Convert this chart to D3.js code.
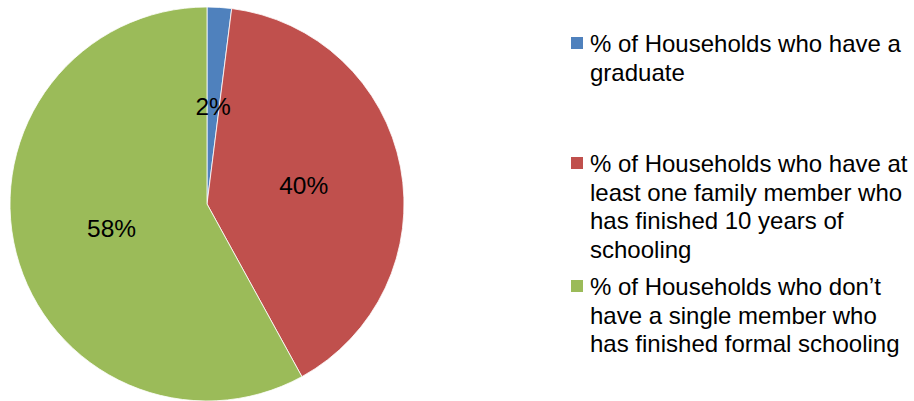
<!DOCTYPE html>
<html>
<head>
<meta charset="utf-8">
<script src="https://cdn.jsdelivr.net/npm/d3@7"></script>
<style>
  html, body { margin: 0; padding: 0; background: #fff; }
  svg { display: block; font-family: "Liberation Sans", Arial, sans-serif; }
</style>
</head>
<body>
<svg id="chart" width="914" height="401"></svg>
<script>
// Household education levels (share of households, %)
const categories = [
  "% of Households who have a graduate",
  "% of Households who have at least one family member who has finished 10 years of schooling",
  "% of Households who don\u2019t have a single member who has finished formal schooling"
];
const values = [2, 40, 58];
const colors = ["#4F81BD", "#C0504D", "#9BBB59"];

const svg = d3.select("#chart");
const cx = 207, cy = 204, radius = 197;

const pie = d3.pie().sort(null).value(d => d.value);
const data = categories.map((c, i) => ({ name: c, value: values[i], color: colors[i] }));
const arcs = pie(data);

const arc = d3.arc().innerRadius(0).outerRadius(radius);

const g = svg.append("g").attr("transform", `translate(${cx},${cy})`);

g.selectAll("path.slice")
  .data(arcs)
  .join("path")
  .attr("class", "slice")
  .attr("d", arc)
  .attr("fill", d => d.data.color)
  .attr("stroke", "#ffffff")
  .attr("stroke-width", 0.8);

// percentage labels at the slice centroids
g.selectAll("text.pct")
  .data(arcs)
  .join("text")
  .attr("class", "pct")
  .attr("x", d => arc.centroid(d)[0])
  .attr("y", d => arc.centroid(d)[1])
  .attr("dy", "0.36em")
  .attr("text-anchor", "middle")
  .attr("font-size", 24.5)
  .attr("fill", "#000")
  .text(d => d.data.value + "%");

// legend with wrapped labels
const legendX = 571, textX = 590, wrapWidth = 320, lineH = 28.5;
const firstBaselines = [52, 172, 295];
const fontSize = 24;

const legend = svg.append("g");
data.forEach((d, i) => {
  const item = legend.append("g");
  const base = firstBaselines[i];
  item.append("rect")
    .attr("x", legendX)
    .attr("y", base - 15)
    .attr("width", 12)
    .attr("height", 12)
    .attr("fill", d.color);

  const text = item.append("text")
    .attr("x", textX)
    .attr("y", base)
    .attr("font-size", fontSize)
    .attr("fill", "#000");

  const words = d.name.split(" ");
  let line = [];
  let lineNo = 0;
  let tspan = text.append("tspan").attr("x", textX).attr("y", base);
  words.forEach(w => {
    line.push(w);
    tspan.text(line.join(" "));
    if (tspan.node().getComputedTextLength() > wrapWidth && line.length > 1) {
      line.pop();
      tspan.text(line.join(" "));
      line = [w];
      lineNo++;
      tspan = text.append("tspan")
        .attr("x", textX)
        .attr("y", base + lineNo * lineH)
        .text(w);
    }
  });
});
</script>
</body>
</html>
